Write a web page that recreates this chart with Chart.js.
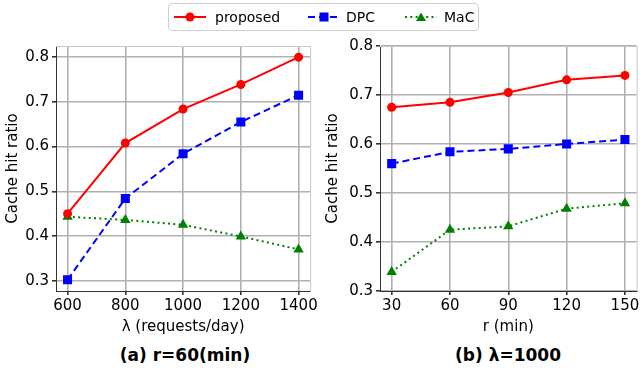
<!DOCTYPE html>
<html>
<head>
<meta charset="utf-8">
<script src="https://cdn.jsdelivr.net/npm/chart.js@4"></script>
<style>
  body { margin: 0; background: #fff; font-family: "DejaVu Sans", sans-serif; }
  #wrap { position: relative; width: 643px; height: 370px; overflow: hidden; }
  .cv { position: absolute; top: 0; }
  #legend {
    position: absolute; left: 168px; top: 3px; width: 311px; height: 28px;
    border: 1px solid #d0d0d0; border-radius: 4px; box-sizing: border-box;
    font-size: 14px; color: #000;
  }
  .li { position: absolute; top: 0; height: 26px; line-height: 26px; }
  .li svg { position: absolute; top: 0; left: 0; }
  .li span { position: absolute; top: 0; white-space: nowrap; }
  .sub { position: absolute; font-weight: bold; font-size: 17px; white-space: nowrap; transform: translateX(-50%); }
</style>
</head>
<body>
<div id="wrap">
  <div class="cv" style="left:0;width:320px;height:340px"><canvas id="chartA"></canvas></div>
  <div class="cv" style="left:320px;width:323px;height:340px"><canvas id="chartB"></canvas></div>
  <div id="legend">
    <div class="li" style="left:4px">
      <svg width="40" height="26"><line x1="1" y1="13" x2="33" y2="13" stroke="#ff0000" stroke-width="2"/><circle cx="17" cy="13" r="4.5" fill="#ff0000"/></svg>
      <span style="left:42px">proposed</span>
    </div>
    <div class="li" style="left:138px">
      <svg width="40" height="26"><line x1="1" y1="13" x2="33" y2="13" stroke="#0000ff" stroke-width="2" stroke-dasharray="7,4"/><rect x="12.5" y="8.5" width="9" height="9" fill="#0000ff"/></svg>
      <span style="left:39px">DPC</span>
    </div>
    <div class="li" style="left:235px">
      <svg width="40" height="26"><line x1="1" y1="13" x2="33" y2="13" stroke="#008000" stroke-width="2" stroke-dasharray="2,3.3"/><polygon points="17,8.5 22,17 12,17" fill="#008000"/></svg>
      <span style="left:40px">MaC</span>
    </div>
  </div>
  <div class="sub" style="left:185px;top:345px">(a) r=60(min)</div>
  <div class="sub" style="left:508px;top:345px">(b) λ=1000</div>
</div>
<script>
// panel (a): varying lambda, r = 60 min
const lambdaVals = [600, 800, 1000, 1200, 1400];
const proposedA = [0.450, 0.608, 0.684, 0.739, 0.800];
const dpcA = [0.302, 0.484, 0.584, 0.655, 0.715];
const macA = [0.443, 0.436, 0.425, 0.399, 0.370];

// panel (b): varying r, lambda = 1000
const rVals = [30, 60, 90, 120, 150];
const proposedB = [0.675, 0.685, 0.705, 0.731, 0.740];
const dpcB = [0.560, 0.584, 0.590, 0.600, 0.609];
const macB = [0.339, 0.425, 0.432, 0.468, 0.479];

const yTicks = [0.3, 0.4, 0.5, 0.6, 0.7, 0.8];

Chart.defaults.font.family = "'DejaVu Sans', sans-serif";
Chart.defaults.color = "#000";

function pts(xs, ys) {
  return xs.map((x, i) => ({ x: x, y: ys[i] }));
}

// light frame on top and right like matplotlib spines
const framePlugin = {
  id: "frame",
  afterDraw(chart) {
    const a = chart.chartArea;
    const ctx = chart.ctx;
    ctx.save();
    ctx.strokeStyle = "#c8c8c8";
    ctx.lineWidth = 1;
    ctx.beginPath();
    ctx.moveTo(a.left, a.top + 0.5);
    ctx.lineTo(a.right + 0.5, a.top + 0.5);
    ctx.lineTo(a.right + 0.5, a.bottom);
    ctx.stroke();
    ctx.restore();
  },
};

function makeConfig(xs, p, d, m, xMin, xMax, yMin, yMax, xTitle, yWidth, padRight) {
  return {
    type: "line",
    data: {
      datasets: [
        {
          label: "proposed",
          data: pts(xs, p),
          borderColor: "#ff0000",
          backgroundColor: "#ff0000",
          borderWidth: 2,
          pointStyle: "circle",
          pointRadius: 4.5,
          pointBorderWidth: 0,
        },
        {
          label: "DPC",
          data: pts(xs, d),
          borderColor: "#0000ff",
          backgroundColor: "#0000ff",
          borderWidth: 2,
          borderDash: [7, 4],
          pointStyle: "rect",
          pointRadius: 6.4,
          pointBorderWidth: 0,
        },
        {
          label: "MaC",
          data: pts(xs, m),
          borderColor: "#008000",
          backgroundColor: "#008000",
          borderWidth: 2,
          borderDash: [2, 3.3],
          pointStyle: "triangle",
          pointRadius: 6,
          pointBorderWidth: 0,
        },
      ],
    },
    options: {
      responsive: true,
      maintainAspectRatio: false,
      animation: false,
      layout: { padding: { top: 46, right: padRight, left: 0, bottom: 0 } },
      plugins: { legend: { display: false }, tooltip: { enabled: false } },
      scales: {
        x: {
          type: "linear",
          min: xMin,
          max: xMax,
          afterBuildTicks: (s) => {
            s.ticks = xs.map((v) => ({ value: v }));
          },
          afterFit: (s) => {
            s.height = 49;
          },
          ticks: { font: { size: 15 }, padding: 2, maxRotation: 0, callback: (v) => String(v) },
          grid: { color: "#b0b0b0", lineWidth: 1.6, tickColor: "#333", tickLength: 4 },
          border: { color: "#333", width: 1 },
          title: { display: true, text: xTitle, font: { size: 15 }, padding: { top: 0 } },
        },
        y: {
          min: yMin,
          max: yMax,
          afterBuildTicks: (s) => {
            s.ticks = yTicks.map((v) => ({ value: v }));
          },
          afterFit: (s) => {
            s.width = yWidth;
          },
          ticks: { font: { size: 15 }, padding: 3, callback: (v) => v.toFixed(1) },
          grid: { color: "#b0b0b0", lineWidth: 1.6, tickColor: "#333", tickLength: 4 },
          border: { color: "#333", width: 1 },
          title: { display: true, text: "Cache hit ratio", font: { size: 15 }, padding: { top: 4, bottom: 2 } },
        },
      },
    },
    plugins: [framePlugin],
  };
}

new Chart(
  document.getElementById("chartA"),
  makeConfig(lambdaVals, proposedA, dpcA, macA, 560, 1440, 0.277, 0.825, "λ (requests/day)", 56, 7)
);
new Chart(
  document.getElementById("chartB"),
  makeConfig(rVals, proposedB, dpcB, macB, 24, 156, 0.3, 0.8, "r (min)", 60, 6)
);
</script>
</body>
</html>
